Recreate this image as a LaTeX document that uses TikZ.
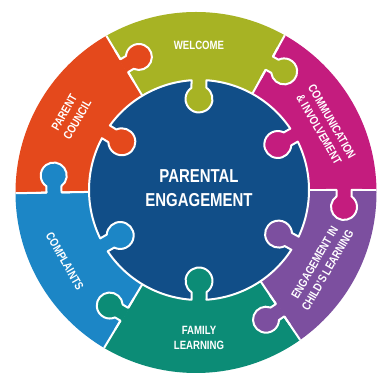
\documentclass[tikz,border=0pt]{standalone}
\usepackage{fontspec}
\setmainfont[FakeStretch=0.8]{Liberation Sans}
\definecolor{cblue}{HTML}{114E88}
\definecolor{corange}{HTML}{E4491C}
\definecolor{cgreen}{HTML}{A7B324}
\definecolor{cmagenta}{HTML}{C41C7E}
\definecolor{cpurple}{HTML}{7C4F9F}
\definecolor{cteal}{HTML}{0C8C76}
\definecolor{clblue}{HTML}{1C86C6}
\begin{document}
\begin{tikzpicture}[x=1pt,y=1pt,
  sep/.style={white, line width=2pt, line join=round},
  lbl/.style={text=white, font=\fontsize{12}{15}\selectfont\bfseries, align=center, inner sep=0pt}]
\useasboundingbox (0,0) rectangle (378,374);
\fill[white] (0,0) rectangle (378,374);
\begin{scope}[shift={(199,184)}]
  \begin{scope}
    \clip (-3,-2.5) circle[radius=180.5];
    \foreach \a/\b/\c in {0/61/cmagenta, 61/121/cgreen, 121/181/corange, 181/239/clblue, 239/304/cteal, 304/360/cpurple} {
      \fill[fill=\c] (0,0) -- (\a:260) arc[start angle=\a, end angle=\b, radius=260] -- cycle;
    }
    \foreach \b/\c in {0/cmagenta, 61/cgreen, 121/corange, 181/clblue, 239/cteal, 304/cpurple} {
      \begin{scope}[rotate=\b]
        \draw[sep] (0,0) -- (260,0);
        \fill[fill=\c] (137.5,1.6) -- (137.5,-6.38) arc[start angle=125.23, end angle=414.77, radius=13] -- (152.5,1.6) -- cycle;
        \draw[sep] (127,0) -- (137.5,0) -- (137.5,-6.38) arc[start angle=125.23, end angle=414.77, radius=13] -- (152.5,0) -- (163,0);
      \end{scope}
    }
  \end{scope}
  \filldraw[sep, fill=cblue] (33.909:110)
    \foreach \p/\q in {30/90, 90/148, 148/210, 210/270, 270/331, 331/390} {
      arc[start angle=\p+3.909, end angle=\q-3.909, radius=110]
      -- (\q-4.196:102.49)
      arc[start angle=\q-33.76, end angle=\q-326.24, radius=13.5]
      -- (\q+3.909:110)
    } -- cycle;
  \node[lbl] (welcome) at (90:145) {WELCOME};
  \node[lbl] (family) at (270:148) {FAMILY\\LEARNING};
  \node[lbl, rotate=60] (council) at (150:148) {PARENT\\COUNCIL};
  \node[lbl, rotate=-60] (comm) at (27:142) {COMMUNICATION\\\& INVOLVEMENT};
  \node[lbl, rotate=60] (child) at (-32:144) {ENGAGEMENT IN\\CHILD'S LEARNING};
  \node[lbl, rotate=-60] (compl) at (208:152) {COMPLAINTS};
  \node[text=white, font=\fontsize{18.7}{24}\selectfont\bfseries, align=center, inner sep=0pt] (pe) at (0,2) {PARENTAL\\ENGAGEMENT};
\end{scope}
\end{tikzpicture}
\end{document}
